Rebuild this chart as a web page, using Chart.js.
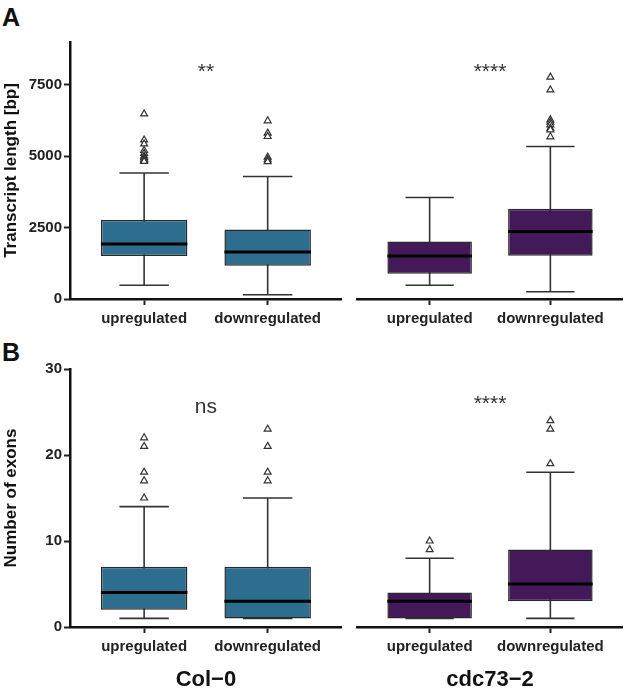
<!DOCTYPE html>
<html>
<head>
<meta charset="utf-8">
<script src="https://cdn.jsdelivr.net/npm/chart.js@4.4.0/dist/chart.umd.min.js"></script>
<style>
  body { margin: 0; background: #fff; width: 628px; height: 691px; position: relative; overflow: hidden; font-family: 'Liberation Sans', Arial, sans-serif; }
  canvas { position: absolute; }
  .tag { position: absolute; left: 2px; font-weight: bold; font-size: 25px; color: #111; line-height: 1; }
</style>
</head>
<body>
<div class="tag" style="top:5px">A</div>
<div class="tag" style="top:340px">B</div>
<canvas id="lenCol" style="left:0;top:0" width="347" height="330"></canvas>
<canvas id="lenCdc" style="left:352px;top:0" width="276" height="330"></canvas>
<canvas id="exCol" style="left:0;top:330px" width="347" height="361"></canvas>
<canvas id="exCdc" style="left:352px;top:330px" width="276" height="361"></canvas>
<script>
const groups = ['upregulated', 'downregulated'];
const facets = ['Col\u22120', 'cdc73\u22122'];

// box stats per group: [lower whisker, Q1, median, Q3, upper whisker]
const lengthCol = [[480, 1505, 1925, 2765, 4410], [150, 1165, 1645, 2435, 4290]];
const lengthCdc = [[480, 885, 1505, 2015, 3555], [255, 1515, 2365, 3160, 5340]];
const exonCol = [[1, 2, 4, 7, 14], [1, 1, 3, 7, 15]];
const exonCdc = [[1, 1, 3, 4, 8], [1, 3, 5, 9, 18]];

// outliers per group
const lengthColOut = [[6480, 5570, 5430, 5200, 5100, 5000, 4950, 4900, 4850, 4820], [6240, 5810, 5690, 4970, 4880, 4810]];
const lengthCdcOut = [[], [7770, 7320, 6275, 6195, 6100, 5985, 5925, 5680]];
const exonColOut = [[22, 21, 18, 17, 15], [23, 21, 18, 17]];
const exonCdcOut = [[10, 9], [24, 23, 19]];

const lengthTicks = [0, 2500, 5000, 7500];
const exonTicks = [0, 10, 20, 30];
const lengthSig = ['**', '****'];
const exonSig = ['ns', '****'];

Chart.defaults.font.family = "'Liberation Sans', Arial, sans-serif";
Chart.defaults.color = '#222';

// whiskers behind the box, median + significance label on top
function boxParts(stats, sig, sigY) {
  return {
    id: 'boxParts',
    beforeDatasetsDraw(chart) {
      const {ctx, scales: {x, y}} = chart;
      ctx.save();
      ctx.strokeStyle = '#333';
      ctx.lineWidth = 1.6;
      stats.forEach((s, i) => {
        const cx = x.getPixelForValue(i + 1);
        const half = x.getPixelForValue(i + 1.2) - cx;
        ctx.beginPath();
        ctx.moveTo(cx, y.getPixelForValue(s[0]));
        ctx.lineTo(cx, y.getPixelForValue(s[4]));
        [s[0], s[4]].forEach(v => {
          const py = y.getPixelForValue(v);
          ctx.moveTo(cx - half, py);
          ctx.lineTo(cx + half, py);
        });
        ctx.stroke();
      });
      ctx.restore();
    },
    afterDatasetsDraw(chart) {
      const {ctx, scales: {x, y}} = chart;
      const bars = chart.getDatasetMeta(0).data;
      ctx.save();
      ctx.strokeStyle = '#000';
      ctx.lineWidth = 3;
      stats.forEach((s, i) => {
        const py = y.getPixelForValue(s[2]);
        ctx.beginPath();
        ctx.moveTo(bars[i].x - bars[i].width / 2, py);
        ctx.lineTo(bars[i].x + bars[i].width / 2, py);
        ctx.stroke();
      });
      ctx.fillStyle = '#333';
      ctx.font = "21px 'Liberation Sans', Arial, sans-serif";
      ctx.textAlign = 'center';
      ctx.textBaseline = 'middle';
      ctx.fillText(sig, x.getPixelForValue(1.5), y.getPixelForValue(sigY));
      ctx.restore();
    }
  };
}

function boxChart(id, o) {
  new Chart(document.getElementById(id), {
    type: 'bar',
    data: {
      datasets: [{
        data: o.stats.map((s, i) => ({x: i + 1, y: [s[1], s[3]]})),
        backgroundColor: o.color,
        borderColor: '#2a2a2a',
        borderWidth: 1.5,
        borderSkipped: false,
        barPercentage: 0.7,
        categoryPercentage: 1
      }, {
        type: 'scatter',
        data: o.outliers.flatMap((arr, i) => arr.map(v => ({x: i + 1, y: v}))),
        pointStyle: 'triangle',
        pointRadius: 4,
        borderColor: '#333',
        backgroundColor: '#fff',
        borderWidth: 1.2
      }]
    },
    options: {
      responsive: false,
      animation: false,
      layout: { padding: { top: o.padTop, right: o.showY ? 1 : 0, bottom: 0, left: 0 } },
      plugins: { legend: { display: false }, tooltip: { enabled: false } },
      scales: {
        x: {
          type: 'linear', min: 0.4, max: 2.6, offset: false,
          afterBuildTicks: s => { s.ticks = groups.map((g, i) => ({value: i + 1})); },
          afterFit: s => { s.height = o.xHeight; },
          ticks: { callback: v => groups[v - 1], color: '#222', font: { size: 15, weight: 'bold' }, padding: 5, maxRotation: 0, autoSkip: false },
          grid: { offset: false, drawOnChartArea: false, tickLength: 6, tickColor: '#222', tickWidth: 2 },
          border: { color: '#111', width: 2.5 },
          title: { display: !!o.facet, text: o.facet, color: '#111', font: { size: 22, weight: 'bold', lineHeight: 1 }, padding: { top: 0, bottom: 0 } }
        },
        y: {
          display: o.showY,
          min: 0, max: o.yMax,
          afterBuildTicks: s => { s.ticks = o.yTicks.map(v => ({value: v})); },
          afterFit: s => { if (o.showY) s.width = 70; },
          ticks: { callback: v => String(v), color: '#222', font: { size: 15, weight: 'bold' }, padding: 2 },
          grid: { drawOnChartArea: false, tickLength: 6, tickColor: '#222', tickWidth: 2 },
          border: { color: '#111', width: 2.5 },
          title: { display: !!o.yTitle, text: o.yTitle, color: '#111', font: { size: 17, weight: 'bold' }, padding: { top: 1, bottom: 0 } }
        }
      }
    },
    plugins: [boxParts(o.stats, o.sig, o.sigY)]
  });
}

const blue = '#2D6E8E';
const purple = '#44195A';

boxChart('lenCol', { stats: lengthCol, outliers: lengthColOut, sig: lengthSig[0], sigY: 7950, color: blue,
  yTicks: lengthTicks, yMax: 9000, showY: true, yTitle: 'Transcript length [bp]', padTop: 42, xHeight: 31 });
boxChart('lenCdc', { stats: lengthCdc, outliers: lengthCdcOut, sig: lengthSig[1], sigY: 7950, color: purple,
  yTicks: lengthTicks, yMax: 9000, showY: false, padTop: 42, xHeight: 31 });
boxChart('exCol', { stats: exonCol, outliers: exonColOut, sig: exonSig[0], sigY: 25.6, color: blue,
  yTicks: exonTicks, yMax: 30, showY: true, yTitle: 'Number of exons', facet: facets[0], padTop: 39, xHeight: 64 });
boxChart('exCdc', { stats: exonCdc, outliers: exonCdcOut, sig: exonSig[1], sigY: 25.9, color: purple,
  yTicks: exonTicks, yMax: 30, showY: false, facet: facets[1], padTop: 39, xHeight: 64 });
</script>
</body>
</html>
